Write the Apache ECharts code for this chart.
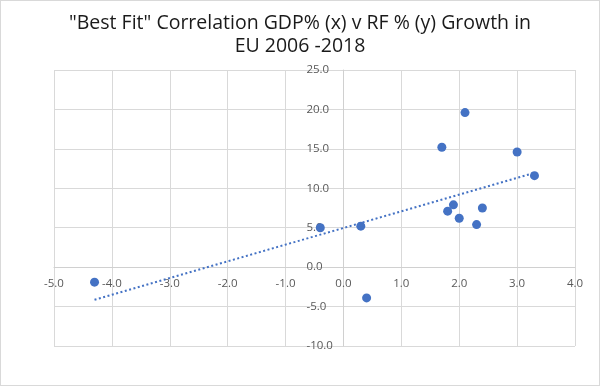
<!DOCTYPE html>
<html>
<head>
<meta charset="utf-8">
<script src="https://cdn.jsdelivr.net/npm/echarts@6/dist/echarts.min.js"></script>
<style>
html,body{margin:0;padding:0;background:#fff;}
#wrap{position:relative;width:600px;height:386px;box-sizing:border-box;border:1px solid #d9d9d9;}
#chart{position:absolute;left:-1px;top:-1px;width:600px;height:386px;}
</style>
</head>
<body>
<div id="wrap"><div id="chart"></div></div>
<script>
var titleText = '"Best Fit" Correlation GDP% (x) v RF % (y) Growth in\nEU 2006 -2018';
var gdpGrowth = [-4.3, -0.4, 0.3, 0.4, 1.7, 1.8, 1.9, 2.0, 2.1, 2.3, 2.4, 3.0, 3.3];
var rfGrowth  = [-1.9, 5.0, 5.2, -3.9, 15.2, 7.1, 7.9, 6.2, 19.6, 5.4, 7.5, 14.6, 11.6];
var xTicks = [-5, -4, -3, -2, -1, 0, 1, 2, 3, 4];
var yTicks = [-10, -5, 0, 5, 10, 15, 20, 25];

var points = gdpGrowth.map(function (x, i) { return [x, rfGrowth[i]]; });

// least-squares linear trendline
var n = points.length, sx = 0, sy = 0, sxx = 0, sxy = 0;
points.forEach(function (p) { sx += p[0]; sy += p[1]; sxx += p[0] * p[0]; sxy += p[0] * p[1]; });
var slope = (n * sxy - sx * sy) / (n * sxx - sx * sx);
var intercept = (sy - slope * sx) / n;
var xMin = Math.min.apply(null, gdpGrowth), xMax = Math.max.apply(null, gdpGrowth);
var trend = [[xMin, intercept + slope * xMin], [xMax, intercept + slope * xMax]];

var W = 600, H = 386;
var grid = {left: 54, right: 25, top: 70, bottom: 40};
var gw = W - grid.left - grid.right, gh = H - grid.top - grid.bottom;
var x0 = xTicks[0], x1 = xTicks[xTicks.length - 1];
var y0 = yTicks[0], y1 = yTicks[yTicks.length - 1];
// place axes through the zero of the other axis
var yAxisOffset = -gw * (0 - x0) / (x1 - x0);
var xAxisOffset = -gh * (0 - y0) / (y1 - y0);

var chart = echarts.init(document.getElementById('chart'), null, {renderer: 'canvas'});
var labelStyle = {color: '#595959', fontSize: 11.5, fontFamily: 'Open Sans, sans-serif'};
chart.setOption({
  animation: false,
  title: {
    text: titleText,
    left: 'center',
    top: 7,
    textStyle: {fontFamily: 'Open Sans, sans-serif', fontSize: 19.5, fontWeight: 'normal', color: '#1a1a1a', lineHeight: 23}
  },
  grid: grid,
  xAxis: {
    type: 'value',
    position: 'bottom',
    offset: xAxisOffset,
    min: x0, max: x1, interval: 1,
    axisLine: {onZero: false, lineStyle: {color: '#d0d0d0', width: 1}},
    axisTick: {show: false},
    splitLine: {show: true, lineStyle: {color: '#d9d9d9', width: 1}},
    axisLabel: Object.assign({margin: 11, formatter: function (v) { return v.toFixed(1); }}, labelStyle)
  },
  yAxis: {
    type: 'value',
    position: 'left',
    offset: yAxisOffset,
    min: y0, max: y1, interval: 5,
    axisLine: {show: true, onZero: false, lineStyle: {color: '#d0d0d0', width: 1}},
    axisTick: {show: false},
    splitLine: {show: true, lineStyle: {color: '#d9d9d9', width: 1}},
    axisLabel: Object.assign({margin: 37, align: 'left', formatter: function (v) { return v.toFixed(1); }}, labelStyle)
  },
  series: [
    {
      type: 'line',
      data: trend,
      symbol: 'none',
      lineStyle: {color: '#4472C4', width: 2, type: [2, 2.5]},
      z: 2
    },
    {
      type: 'scatter',
      data: points,
      symbolSize: 9,
      itemStyle: {color: '#4472C4', opacity: 1},
      z: 3
    }
  ]
});
</script>
</body>
</html>
